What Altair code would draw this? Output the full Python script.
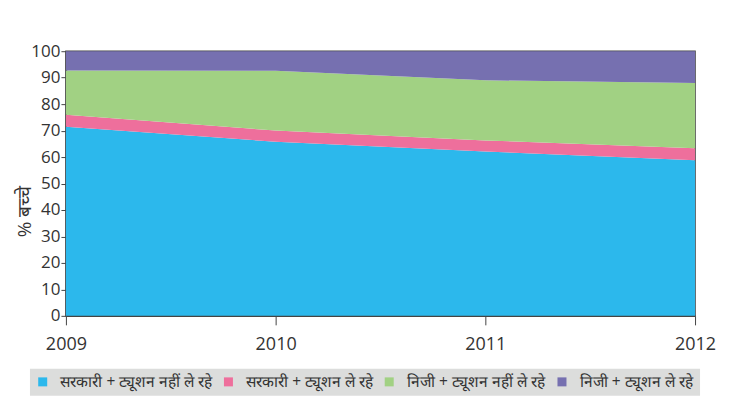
import altair as alt
import pandas as pd

years = [2009, 2010, 2011, 2012]
series = [
    "सरकारी + ट्यूशन नहीं ले रहे",
    "सरकारी + ट्यूशन ले रहे",
    "निजी + ट्यूशन नहीं ले रहे",
    "निजी + ट्यूशन ले रहे",
]
govt_no_tuition = [71.5, 65.8, 62.1, 58.8]
govt_tuition = [4.5, 4.2, 4.2, 4.5]
pvt_no_tuition = [16.7, 22.6, 22.7, 24.7]
pvt_tuition = [7.3, 7.4, 11.0, 12.0]
colors = ["#2cb8ec", "#ee6f9c", "#a1d183", "#7670b0"]
y_ticks = [0, 10, 20, 30, 40, 50, 60, 70, 80, 90, 100]

rows = []
for i, vals in enumerate([govt_no_tuition, govt_tuition, pvt_no_tuition, pvt_tuition]):
    for y, v in zip(years, vals):
        rows.append({"year": y, "series": series[i], "order": i, "value": v})
df = pd.DataFrame(rows)

txt = "#333333"
font = "Open Sans"

chart = alt.Chart(df).mark_area(opacity=1).encode(
    x=alt.X("year:Q",
            scale=alt.Scale(domain=[2009, 2012], nice=False, zero=False),
            axis=alt.Axis(values=years, format="d", title=None, grid=False,
                          tickSize=9, labelPadding=11, labelFontSize=18,
                          labelFont=font, labelColor=txt, domainColor="#444",
                          tickColor="#444", domainWidth=1.5, labelFlush=False)),
    y=alt.Y("value:Q", stack="zero",
            scale=alt.Scale(domain=[0, 100], nice=False),
            axis=alt.Axis(values=y_ticks, title="% बच्चे", grid=False,
                          tickSize=5, labelPadding=1, labelFontSize=17,
                          labelFont=font, labelColor=txt, domainColor="#444",
                          tickColor="#444", domainWidth=1.5,
                          titleFont=font, titleFontSize=19, titleFontWeight="normal",
                          titleColor=txt, titleX=-41, titleY=160,
                          titleAngle=270, titleAlign="center",
                          titleBaseline="middle")),
    color=alt.Color("series:N",
                    scale=alt.Scale(domain=series, range=colors),
                    legend=alt.Legend(title=None, orient="none", legendX=-36,
                                      legendY=318, direction="horizontal",
                                      fillColor="#dcdddc", padding=5,
                                      symbolType="square", symbolSize=81,
                                      symbolStrokeWidth=0, labelFontSize=15.5,
                                      labelFont=font,
                                      labelColor=txt, labelOffset=10,
                                      columnPadding=7, labelLimit=400)),
    order=alt.Order("order:Q"),
).properties(
    width=630, height=265,
    padding={"left": 58, "top": 43, "right": 31, "bottom": 80},
    autosize=alt.AutoSizeParams(type="none"),
    background="white",
).configure_view(stroke="#444", strokeWidth=1.5)

chart.save("out.html", embed_options={"renderer": "svg", "actions": False})
